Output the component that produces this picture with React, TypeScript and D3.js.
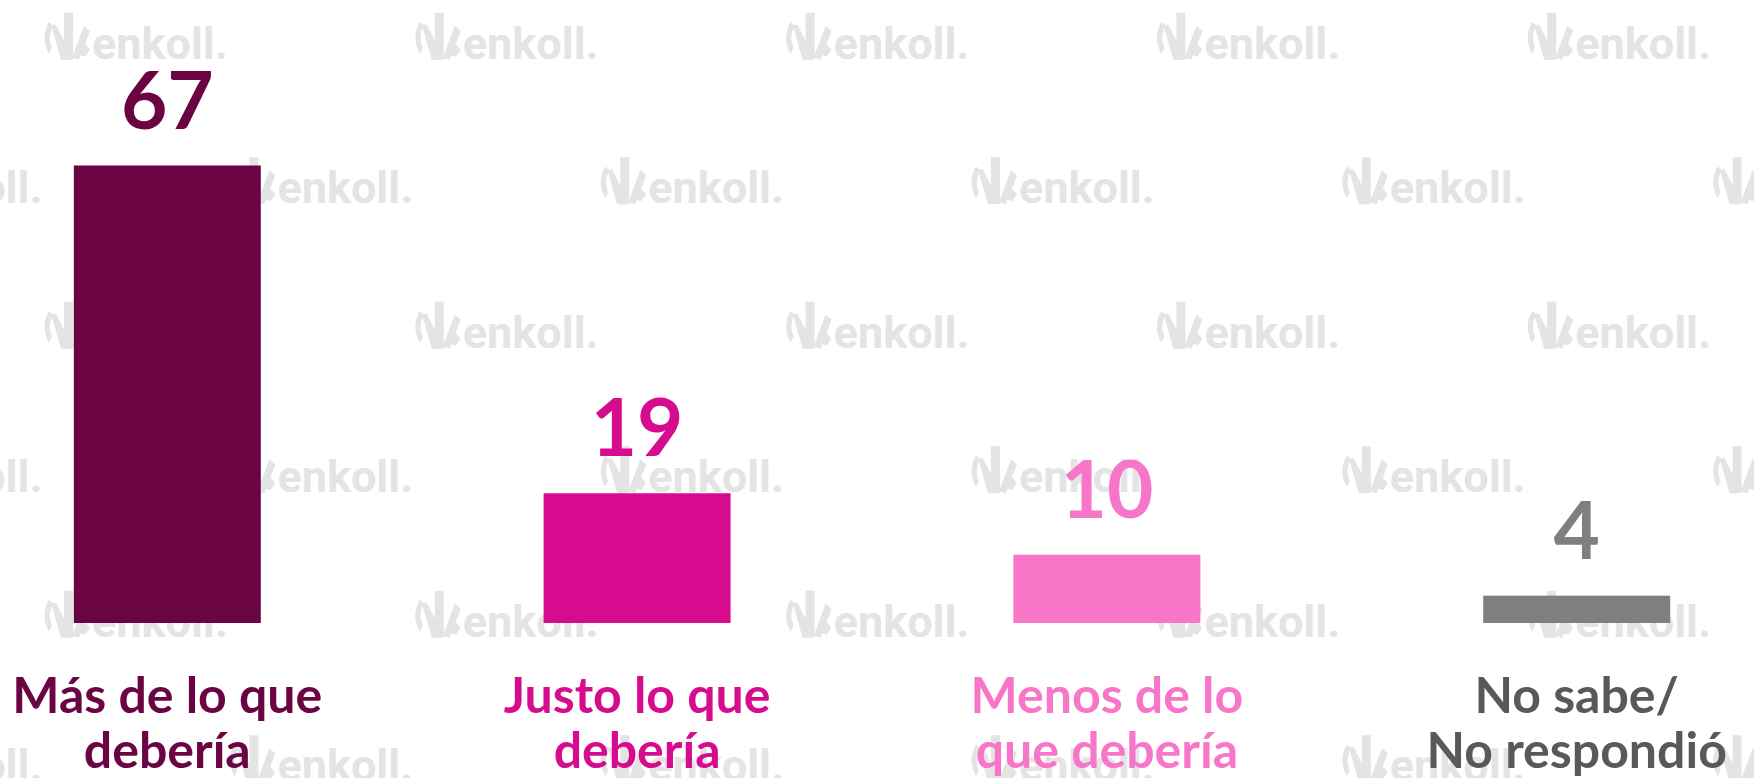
import React from "react";
import * as d3 from "d3";

const categoryLines: string[][] = [
  ["Más de lo que", "debería"],
  ["Justo lo que", "debería"],
  ["Menos de lo", "que debería"],
  ["No sabe/", "No respondió"],
];
const categories = categoryLines.map((l) => l.join(" "));
const values = [67, 19, 10, 4];
const barColors = ["#6A0443", "#D60B8E", "#F876C8", "#7F7F7F"];
const valueColors = ["#6A0443", "#D60B8E", "#F876C8", "#7F7F7F"];
const labelColors = ["#6A0443", "#D60B8E", "#F876C8", "#595959"];

const W = 1754;
const H = 778;
const FONT = "Lato, 'Open Sans', sans-serif";
const WM = "#E4E4E4";

function Logo({ x, y }: { x: number; y: number }) {
  return (
    <g transform={`translate(${x},${y})`} fill={WM}>
      <path d="M5,9 Q-4,25 5,41 L8,35 Q3,24 9,13 Z" />
      <path d="M7,12 L12,12 L25,38 L23,47 L17,47 Z" />
      <rect x={20} y={0} width={9} height={47} />
      <path d="M28,45 L40,13 L46,18 L35,47 Z" />
      <path d="M33,41 L38,28 L46,37 L41,44 Z" />
      <text
        x={48}
        y={46}
        fontFamily="Roboto, sans-serif"
        fontWeight={700}
        fontSize={45}
      >
        enkoll.
      </text>
    </g>
  );
}

export default function App() {
  const x = d3
    .scaleBand<string>()
    .domain(categories)
    .range([-67.6, 1811.6])
    .paddingInner(0.602)
    .paddingOuter(0.301);
  const y = d3.scaleLinear().domain([0, 67]).range([623, 165.5]);

  const wm: { x: number; y: number }[] = [];
  for (let r = 0; r < 6; r++) {
    for (let c = -1; c < 6; c++) {
      const off = r % 2 === 1 ? 185.4 : 0;
      wm.push({ x: 44 + off + c * 370.8, y: 12.7 + r * 144.5 });
    }
  }

  return (
    <div style={{ position: "absolute", left: 0, top: 0 }}>
      <svg width={W} height={H} style={{ display: "block", background: "#fff" }}>
        <rect x={0} y={0} width={W} height={H} fill="#fff" />
        {wm.map((p, i) => (
          <Logo key={i} x={p.x} y={p.y} />
        ))}
        {categories.map((c, i) => {
          const bx = x(c)!;
          const bw = x.bandwidth();
          const cx = bx + bw / 2;
          return (
            <g key={c}>
              <rect
                x={bx}
                y={y(values[i])}
                width={bw}
                height={y(0) - y(values[i])}
                fill={barColors[i]}
              />
              <text
                x={cx}
                y={y(values[i]) - 37}
                textAnchor="middle"
                fontFamily={FONT}
                fontWeight={700}
                fontSize={80}
                fill={valueColors[i]}
              >
                {values[i]}
              </text>
              {categoryLines[i].map((line, j) => (
                <text
                  key={j}
                  x={cx}
                  y={713 + j * 55}
                  textAnchor="middle"
                  fontFamily={FONT}
                  fontWeight={700}
                  fontSize={50}
                  fill={labelColors[i]}
                >
                  {line}
                </text>
              ))}
            </g>
          );
        })}
      </svg>
    </div>
  );
}
